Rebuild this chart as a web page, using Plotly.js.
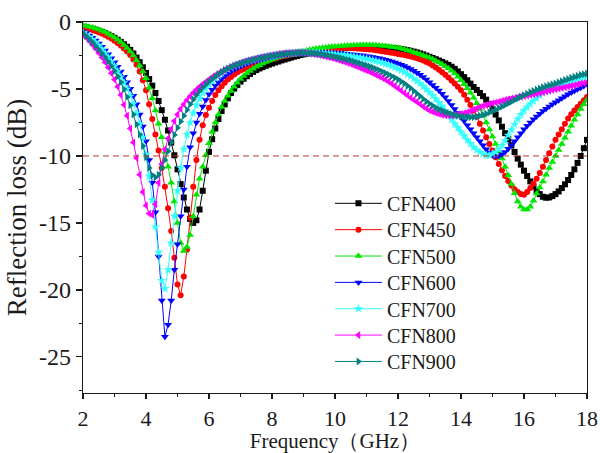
<!DOCTYPE html>
<html>
<head>
<meta charset="utf-8">
<script src="https://cdn.plot.ly/plotly-3.0.1.min.js"></script>
<style>html,body{margin:0;padding:0;background:#fff;}#chart{width:600px;height:453px;}</style>
</head>
<body>
<div id="chart"></div>
<script>
// Frequency grid (GHz)
const freq = [
2.0,2.1,2.2,2.3,2.4,2.5,2.6,2.7,2.8,2.9,
3.0,3.1,3.2,3.3,3.4,3.5,3.6,3.7,3.8,3.9,
4.0,4.1,4.2,4.3,4.4,4.5,4.6,4.7,4.8,4.9,
5.0,5.1,5.2,5.3,5.4,5.5,5.6,5.7,5.8,5.9,
6.0,6.1,6.2,6.3,6.4,6.5,6.6,6.7,6.8,6.9,
7.0,7.1,7.2,7.3,7.4,7.5,7.6,7.7,7.8,7.9,
8.0,8.1,8.2,8.3,8.4,8.5,8.6,8.7,8.8,8.9,
9.0,9.1,9.2,9.3,9.4,9.5,9.6,9.7,9.8,9.9,
10.0,10.1,10.2,10.3,10.4,10.5,10.6,10.7,10.8,10.9,
11.0,11.1,11.2,11.3,11.4,11.5,11.6,11.7,11.8,11.9,
12.0,12.1,12.2,12.3,12.4,12.5,12.6,12.7,12.8,12.9,
13.0,13.1,13.2,13.3,13.4,13.5,13.6,13.7,13.8,13.9,
14.0,14.1,14.2,14.3,14.4,14.5,14.6,14.7,14.8,14.9,
15.0,15.1,15.2,15.3,15.4,15.5,15.6,15.7,15.8,15.9,
16.0,16.1,16.2,16.3,16.4,16.5,16.6,16.7,16.8,16.9,
17.0,17.1,17.2,17.3,17.4,17.5,17.6,17.7,17.8,17.9,
18.0];

const seriesNames = ["CFN400","CFN450","CFN500","CFN600","CFN700","CFN800","CFN900"];

const cfn400 = [
-0.35,-0.4,-0.45,-0.51,-0.58,-0.66,-0.74,-0.84,-0.94,-1.06,
-1.18,-1.32,-1.48,-1.66,-1.85,-2.08,-2.35,-2.66,-3.0,-3.38,
-3.8,-4.26,-4.75,-5.3,-5.9,-6.58,-7.3,-8.1,-9.0,-9.95,
-11.0,-12.1,-13.1,-14.0,-14.7,-15.0,-14.8,-14.0,-12.6,-11.1,
-9.7,-8.75,-7.95,-7.25,-6.65,-6.15,-5.7,-5.3,-4.97,-4.7,
-4.45,-4.24,-4.05,-3.88,-3.72,-3.59,-3.47,-3.37,-3.27,-3.18,
-3.1,-3.02,-2.95,-2.87,-2.8,-2.73,-2.66,-2.59,-2.53,-2.47,
-2.42,-2.37,-2.32,-2.27,-2.23,-2.19,-2.15,-2.11,-2.08,-2.05,
-2.02,-1.99,-1.97,-1.95,-1.93,-1.91,-1.9,-1.89,-1.88,-1.87,
-1.87,-1.87,-1.87,-1.87,-1.88,-1.89,-1.9,-1.92,-1.94,-1.96,
-1.99,-2.02,-2.06,-2.1,-2.15,-2.21,-2.27,-2.34,-2.42,-2.51,
-2.6,-2.69,-2.78,-2.88,-2.98,-3.09,-3.2,-3.34,-3.5,-3.69,
-3.9,-4.12,-4.35,-4.6,-4.85,-5.07,-5.3,-5.54,-5.8,-6.13,
-6.5,-6.91,-7.35,-7.82,-8.3,-8.75,-9.2,-9.7,-10.2,-10.65,
-11.1,-11.5,-11.9,-12.27,-12.6,-12.85,-13.05,-13.12,-13.1,-13.0,
-12.85,-12.65,-12.4,-12.12,-11.8,-11.42,-11.0,-10.52,-10.0,-9.42,
-8.8];

const cfn450 = [
-0.4,-0.46,-0.52,-0.59,-0.67,-0.76,-0.86,-0.97,-1.1,-1.24,
-1.4,-1.57,-1.76,-1.97,-2.2,-2.47,-2.8,-3.2,-3.7,-4.35,
-5.1,-6.15,-7.25,-8.4,-9.6,-10.9,-12.3,-13.9,-15.6,-17.6,
-19.6,-20.4,-19.0,-17.0,-14.6,-12.3,-10.3,-8.8,-7.7,-6.95,
-6.4,-5.9,-5.45,-5.1,-4.8,-4.53,-4.3,-4.1,-3.92,-3.76,
-3.62,-3.5,-3.38,-3.28,-3.18,-3.1,-3.02,-2.95,-2.88,-2.82,
-2.76,-2.7,-2.64,-2.58,-2.53,-2.48,-2.43,-2.38,-2.34,-2.3,
-2.26,-2.22,-2.19,-2.15,-2.12,-2.09,-2.06,-2.03,-2.01,-1.99,
-1.97,-1.96,-1.95,-1.95,-1.95,-1.95,-1.96,-1.97,-1.99,-2.01,
-2.03,-2.05,-2.08,-2.11,-2.15,-2.18,-2.22,-2.26,-2.3,-2.34,
-2.38,-2.42,-2.47,-2.52,-2.58,-2.64,-2.7,-2.78,-2.88,-2.98,
-3.1,-3.24,-3.4,-3.57,-3.75,-3.94,-4.15,-4.37,-4.6,-4.84,
-5.1,-5.43,-5.8,-6.19,-6.6,-7.08,-7.6,-8.1,-8.6,-9.1,
-9.6,-10.1,-10.6,-11.07,-11.5,-11.88,-12.2,-12.48,-12.7,-12.85,
-12.9,-12.7,-12.4,-12.08,-11.7,-11.27,-10.8,-10.3,-9.8,-9.3,
-8.8,-8.4,-8.0,-7.6,-7.2,-6.88,-6.6,-6.34,-6.1,-5.85,
-5.6];

const cfn500 = [
-0.25,-0.3,-0.35,-0.41,-0.48,-0.56,-0.65,-0.75,-0.87,-1.0,
-1.15,-1.32,-1.5,-1.71,-1.95,-2.21,-2.5,-2.85,-3.25,-3.7,
-4.2,-4.9,-5.7,-6.6,-7.6,-8.6,-9.7,-10.8,-12.0,-13.4,
-15.0,-16.5,-17.1,-16.8,-15.9,-14.5,-12.9,-11.7,-10.8,-9.95,
-9.05,-8.2,-7.5,-6.9,-6.35,-5.9,-5.5,-5.15,-4.83,-4.53,
-4.25,-4.03,-3.83,-3.65,-3.49,-3.35,-3.22,-3.1,-2.99,-2.89,
-2.8,-2.72,-2.64,-2.57,-2.5,-2.43,-2.37,-2.31,-2.26,-2.21,
-2.16,-2.12,-2.08,-2.04,-2.0,-1.96,-1.93,-1.9,-1.87,-1.85,
-1.83,-1.81,-1.79,-1.77,-1.76,-1.75,-1.74,-1.73,-1.72,-1.71,
-1.71,-1.71,-1.72,-1.73,-1.75,-1.77,-1.8,-1.83,-1.86,-1.89,
-1.93,-1.98,-2.03,-2.1,-2.17,-2.25,-2.33,-2.41,-2.5,-2.57,
-2.65,-2.77,-2.9,-3.02,-3.15,-3.3,-3.45,-3.64,-3.85,-4.09,
-4.35,-4.64,-4.95,-5.29,-5.65,-6.06,-6.5,-6.98,-7.5,-8.02,
-8.55,-9.1,-9.65,-10.2,-10.8,-11.45,-12.1,-12.78,-13.4,-13.8,
-14.0,-14.0,-13.8,-13.35,-12.8,-12.35,-11.9,-11.4,-10.9,-10.45,
-10.0,-9.55,-9.1,-8.65,-8.2,-7.75,-7.3,-6.9,-6.5,-6.15,
-5.8];

const cfn600 = [
-0.7,-0.84,-1.0,-1.18,-1.38,-1.6,-1.85,-2.12,-2.4,-2.7,
-3.0,-3.34,-3.7,-4.08,-4.5,-4.98,-5.5,-6.15,-6.9,-7.8,
-8.9,-10.3,-12.0,-14.2,-17.5,-20.8,-23.5,-22.6,-20.8,-18.5,
-16.6,-14.5,-12.5,-10.8,-9.35,-8.3,-7.5,-6.85,-6.3,-5.83,
-5.4,-5.05,-4.75,-4.49,-4.25,-4.04,-3.85,-3.69,-3.55,-3.42,
-3.3,-3.2,-3.1,-3.02,-2.95,-2.88,-2.82,-2.76,-2.7,-2.65,
-2.6,-2.55,-2.5,-2.46,-2.43,-2.4,-2.37,-2.34,-2.32,-2.3,
-2.28,-2.27,-2.26,-2.25,-2.25,-2.25,-2.25,-2.26,-2.27,-2.28,
-2.3,-2.31,-2.33,-2.35,-2.37,-2.4,-2.42,-2.45,-2.48,-2.51,
-2.55,-2.58,-2.62,-2.66,-2.7,-2.76,-2.82,-2.88,-2.95,-3.02,
-3.1,-3.19,-3.28,-3.39,-3.5,-3.64,-3.78,-3.94,-4.1,-4.3,
-4.5,-4.7,-4.9,-5.12,-5.35,-5.62,-5.9,-6.2,-6.5,-6.8,
-7.1,-7.4,-7.7,-8.0,-8.3,-8.6,-8.9,-9.2,-9.5,-9.75,
-9.95,-10.02,-10.0,-9.88,-9.7,-9.47,-9.2,-8.9,-8.6,-8.3,
-8.0,-7.75,-7.5,-7.27,-7.05,-6.85,-6.65,-6.47,-6.3,-6.15,
-6.0,-5.85,-5.7,-5.55,-5.4,-5.27,-5.15,-5.02,-4.9,-4.77,
-4.65];

const cfn700 = [
-0.8,-0.95,-1.12,-1.31,-1.52,-1.76,-2.02,-2.31,-2.62,-2.95,
-3.3,-3.69,-4.1,-4.54,-5.0,-5.52,-6.1,-6.8,-7.6,-8.6,
-9.9,-11.5,-13.3,-15.3,-17.2,-19.3,-19.9,-18.5,-16.5,-14.5,
-12.6,-10.9,-9.5,-8.4,-7.5,-6.8,-6.2,-5.72,-5.3,-4.95,
-4.65,-4.4,-4.18,-3.99,-3.82,-3.67,-3.53,-3.41,-3.3,-3.21,
-3.12,-3.04,-2.96,-2.89,-2.83,-2.77,-2.72,-2.67,-2.62,-2.58,
-2.54,-2.5,-2.46,-2.43,-2.4,-2.37,-2.35,-2.33,-2.31,-2.3,
-2.29,-2.28,-2.28,-2.28,-2.29,-2.3,-2.31,-2.33,-2.35,-2.37,
-2.4,-2.42,-2.45,-2.47,-2.5,-2.53,-2.57,-2.61,-2.65,-2.7,
-2.75,-2.8,-2.85,-2.91,-2.97,-3.04,-3.12,-3.21,-3.3,-3.4,
-3.5,-3.62,-3.75,-3.9,-4.05,-4.22,-4.4,-4.6,-4.8,-5.02,
-5.25,-5.5,-5.75,-6.02,-6.3,-6.62,-6.95,-7.28,-7.6,-7.9,
-8.2,-8.5,-8.8,-9.08,-9.35,-9.55,-9.72,-9.85,-9.95,-9.95,
-9.85,-9.7,-9.5,-9.2,-8.85,-8.45,-8.05,-7.65,-7.25,-6.9,
-6.6,-6.35,-6.1,-5.9,-5.7,-5.5,-5.3,-5.17,-5.05,-4.95,
-4.85,-4.75,-4.65,-4.57,-4.5,-4.42,-4.35,-4.27,-4.2,-4.12,
-4.05];

const cfn800 = [
-0.92,-1.16,-1.42,-1.7,-2.0,-2.32,-2.65,-3.01,-3.4,-3.83,
-4.3,-4.84,-5.45,-6.18,-7.0,-7.95,-9.0,-10.15,-11.4,-12.7,
-13.7,-14.3,-14.4,-13.6,-12.0,-10.6,-9.5,-8.7,-8.0,-7.4,
-6.9,-6.5,-6.15,-5.83,-5.55,-5.28,-5.05,-4.84,-4.65,-4.47,
-4.3,-4.13,-3.98,-3.84,-3.7,-3.57,-3.45,-3.34,-3.24,-3.15,
-3.06,-2.98,-2.9,-2.84,-2.78,-2.72,-2.67,-2.62,-2.57,-2.52,
-2.48,-2.44,-2.4,-2.37,-2.34,-2.32,-2.3,-2.29,-2.28,-2.28,
-2.3,-2.32,-2.35,-2.38,-2.42,-2.47,-2.52,-2.57,-2.63,-2.69,
-2.75,-2.82,-2.9,-2.97,-3.05,-3.14,-3.23,-3.32,-3.42,-3.52,
-3.62,-3.72,-3.83,-3.94,-4.05,-4.17,-4.3,-4.45,-4.6,-4.77,
-4.95,-5.12,-5.3,-5.47,-5.65,-5.8,-5.95,-6.12,-6.3,-6.45,
-6.6,-6.7,-6.8,-6.87,-6.93,-6.96,-6.97,-6.97,-6.95,-6.91,
-6.87,-6.81,-6.75,-6.65,-6.55,-6.45,-6.35,-6.27,-6.2,-6.13,
-6.07,-6.01,-5.95,-5.89,-5.83,-5.77,-5.72,-5.67,-5.62,-5.57,
-5.53,-5.49,-5.45,-5.4,-5.35,-5.3,-5.25,-5.19,-5.13,-5.07,
-5.02,-4.97,-4.92,-4.87,-4.82,-4.77,-4.72,-4.66,-4.6,-4.55,
-4.5];

const cfn900 = [
-0.85,-1.06,-1.28,-1.52,-1.78,-2.05,-2.33,-2.63,-2.95,-3.29,
-3.65,-4.06,-4.5,-5.02,-5.6,-6.22,-6.9,-7.63,-8.4,-9.25,
-10.1,-10.9,-11.45,-11.6,-11.4,-10.9,-10.3,-9.65,-9.0,-8.43,
-7.9,-7.43,-7.0,-6.56,-6.15,-5.78,-5.45,-5.16,-4.9,-4.66,
-4.45,-4.25,-4.06,-3.89,-3.73,-3.59,-3.47,-3.36,-3.26,-3.18,
-3.1,-3.02,-2.95,-2.88,-2.82,-2.76,-2.71,-2.66,-2.61,-2.56,
-2.52,-2.48,-2.44,-2.41,-2.38,-2.35,-2.33,-2.31,-2.3,-2.3,
-2.3,-2.31,-2.32,-2.34,-2.36,-2.39,-2.42,-2.46,-2.5,-2.55,
-2.6,-2.65,-2.7,-2.76,-2.82,-2.88,-2.95,-3.02,-3.1,-3.17,
-3.25,-3.33,-3.42,-3.51,-3.6,-3.71,-3.82,-3.93,-4.05,-4.17,
-4.3,-4.45,-4.6,-4.77,-4.95,-5.15,-5.35,-5.55,-5.75,-5.93,
-6.1,-6.25,-6.4,-6.52,-6.62,-6.72,-6.8,-6.88,-6.95,-7.0,
-7.05,-7.08,-7.1,-7.1,-7.1,-7.06,-7.0,-6.93,-6.85,-6.75,
-6.65,-6.54,-6.42,-6.31,-6.2,-6.07,-5.95,-5.82,-5.7,-5.58,
-5.47,-5.36,-5.25,-5.15,-5.05,-4.96,-4.88,-4.8,-4.73,-4.66,
-4.6,-4.51,-4.42,-4.33,-4.25,-4.17,-4.1,-4.02,-3.95,-3.9,
-3.85];

const threshold = -10;
const xTickVals = [2,4,6,8,10,12,14,16,18];
const xTickText = ["2","4","6","8","10","12","14","16","18"];
const yTickVals = [0,-5,-10,-15,-20,-25];
const yTickText = ["0","-5","-10","-15","-20","-25"];

const allValues = [cfn400,cfn450,cfn500,cfn600,cfn700,cfn800,cfn900];
const colors = ["#000000","#ff0000","#00e600","#0000ff","#33ffff","#ff00ff","#008080"];
const symbols = ["square","circle","triangle-up","triangle-down","star","triangle-left","triangle-right"];
const sizes = [6,6,7,7,7,7,7];

const FONT = "'Liberation Serif', 'Times New Roman', serif";
const INK = '#1a1a1a';

const traces = allValues.map((vals,i)=>({
  x: freq, y: vals, name: seriesNames[i], type:'scatter', mode:'lines+markers',
  legend: i===0 ? 'legend' : 'legend'+(i+1),
  line:{color:colors[i], width:1},
  marker:{symbol:symbols[i], size:sizes[i], color:colors[i], line:{width:0}}
}));

const layout = {
  width:600, height:453,
  margin:{l:83, r:13, t:22, b:60, pad:0},
  paper_bgcolor:'#ffffff', plot_bgcolor:'#ffffff',
  font:{family:FONT, color:INK, size:20},
  showlegend:true,
  xaxis:{range:[2,18], tickvals:xTickVals, ticktext:xTickText, ticks:'outside', ticklen:5, tickwidth:1.3, tickcolor:INK,
    showline:true, mirror:true, linecolor:INK, linewidth:1.3, showgrid:false, zeroline:false,
    tickfont:{family:FONT, size:22, color:INK},
    minor:{dtick:1, ticks:'outside', ticklen:3, tickwidth:1.3, tickcolor:INK, showgrid:false},
    title:{text:'Frequency（GHz）', font:{family:FONT, size:21, color:INK}, standoff:10}},
  yaxis:{range:[-27.7,0], tickvals:yTickVals, ticktext:yTickText, ticks:'outside', ticklen:6, tickwidth:1.3, tickcolor:INK,
    showline:true, mirror:true, linecolor:INK, linewidth:1.3, showgrid:false, zeroline:false,
    tickfont:{family:FONT, size:24, color:INK},
    minor:{dtick:2.5, ticks:'outside', ticklen:3, tickwidth:1.3, tickcolor:INK, showgrid:false},
    title:{text:'Reflection loss (dB)\u00a0\u00a0\u00a0\u00a0\u00a0', font:{family:FONT, size:27, color:INK}, standoff:4}},
  shapes:[{type:'line', xref:'paper', x0:0, x1:1, yref:'y', y0:threshold, y1:threshold,
    line:{color:'#b83a30', width:1, dash:'6px,4px'}}]
};

// one legend box per row to reproduce the row spacing of the original
const plotTop = 21.7, plotH = 371.6;
seriesNames.forEach((n,i)=>{
  const key = i===0 ? 'legend' : 'legend'+(i+1);
  const py = 203.3 + 26.4*i;
  layout[key] = {x:0.49, y:1-(py-plotTop)/plotH, xanchor:'left', yanchor:'middle',
    bgcolor:'rgba(0,0,0,0)', borderwidth:0, itemwidth:47,
    font:{family:FONT, size:20, color:INK}};
});

Plotly.newPlot('chart', traces, layout, {displayModeBar:false, staticPlot:true});
</script>
</body>
</html>
